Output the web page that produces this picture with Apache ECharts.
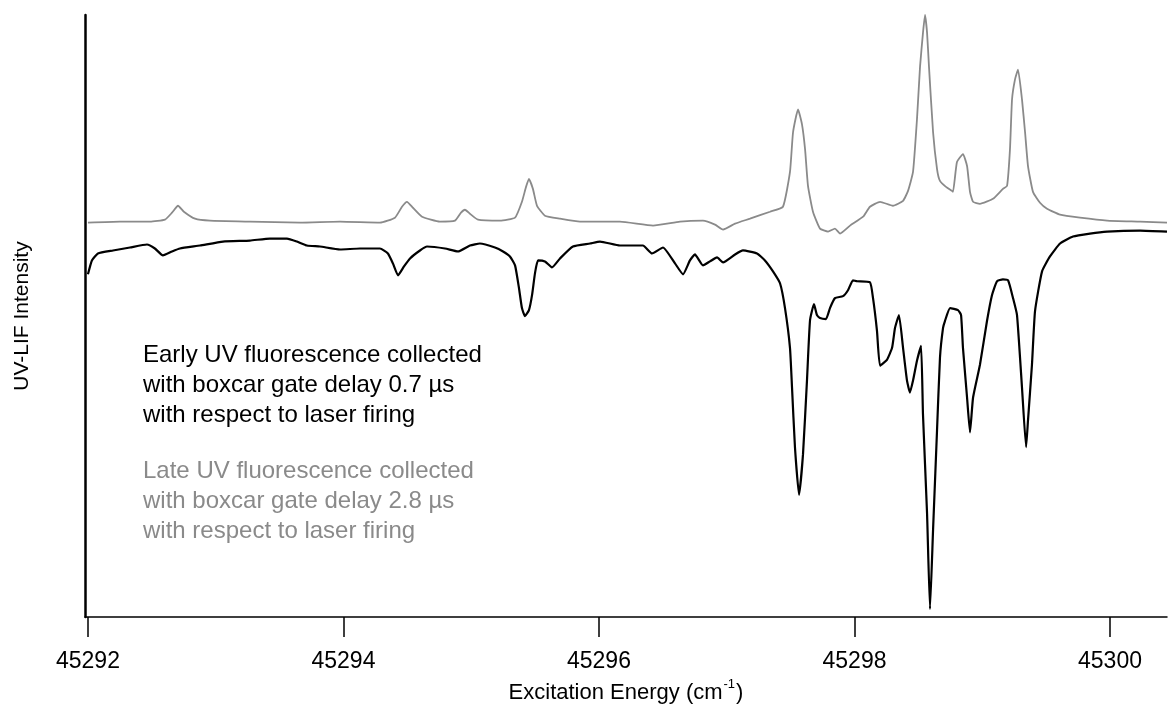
<!DOCTYPE html>
<html>
<head>
<meta charset="utf-8">
<script src="https://cdn.jsdelivr.net/npm/echarts@6/dist/echarts.min.js"></script>
<style>
html,body{margin:0;padding:0;background:#fff;}
#chart{width:1168px;height:709px;}
</style>
</head>
<body>
<div id="chart"></div>
<script>
// Excitation energy (cm^-1) and relative UV-LIF intensity (arbitrary units)
const lateX = [45292.000,45292.250,45292.485,45292.603,45292.658,45292.705,45292.751,45292.838,45292.955,45293.268,45293.660,45293.973,45294.286,45294.403,45294.458,45294.497,45294.544,45294.615,45294.755,45294.873,45294.920,45294.951,45294.990,45295.053,45295.225,45295.343,45295.397,45295.429,45295.452,45295.483,45295.515,45295.577,45295.695,45295.851,45296.164,45296.423,45296.634,45296.814,45296.908,45296.971,45297.065,45297.182,45297.339,45297.440,45297.495,45297.519,45297.558,45297.589,45297.613,45297.636,45297.675,45297.730,45297.793,45297.847,45297.887,45297.965,45298.067,45298.121,45298.200,45298.301,45298.380,45298.419,45298.458,45298.489,45298.513,45298.536,45298.552,45298.568,45298.583,45298.615,45298.646,45298.669,45298.716,45298.763,45298.771,45298.802,45298.849,45298.881,45298.904,45298.928,45298.982,45299.084,45299.162,45299.194,45299.217,45299.233,45299.256,45299.280,45299.311,45299.335,45299.358,45299.397,45299.452,45299.507,45299.609,45299.765,45299.977,45300.235,45300.446];
const lateY = [397,398,398,400,407,414,408,401,399,398,397,398,397,402,413,418,412,403,398,399,407,410,406,400,399,402,418,433,441,431,414,404,401,398,398,394,398,399,395,390,396,401,408,413,448,488,511,496,471,434,408,391,388,391,386,394,403,413,418,414,419,429,448,501,554,588,606,588,554,488,451,439,433,429,428,458,466,454,428,418,416,421,431,434,471,521,541,551,521,488,454,428,417,411,405,402,399,398,397];

const earlyX = [45292.000,45292.031,45292.078,45292.196,45292.329,45292.462,45292.524,45292.587,45292.658,45292.720,45292.877,45293.057,45293.268,45293.425,45293.558,45293.636,45293.714,45293.816,45293.973,45294.129,45294.286,45294.348,45294.387,45294.427,45294.474,45294.521,45294.599,45294.654,45294.795,45294.896,45294.990,45295.068,45295.186,45295.249,45295.303,45295.343,45295.374,45295.397,45295.421,45295.452,45295.476,45295.499,45295.523,45295.577,45295.632,45295.695,45295.796,45295.930,45296.008,45296.164,45296.344,45296.415,45296.501,45296.595,45296.658,45296.712,45296.751,45296.814,45296.869,45296.924,45296.971,45297.065,45297.127,45297.237,45297.299,45297.362,45297.417,45297.456,45297.495,45297.511,45297.534,45297.566,45297.597,45297.628,45297.652,45297.683,45297.706,45297.730,45297.777,45297.808,45297.847,45297.910,45297.949,45297.988,45298.020,45298.121,45298.145,45298.176,45298.200,45298.254,45298.294,45298.317,45298.348,45298.380,45298.411,45298.434,45298.458,45298.489,45298.521,45298.536,45298.568,45298.591,45298.615,45298.646,45298.669,45298.693,45298.708,45298.748,45298.810,45298.834,45298.849,45298.881,45298.904,45298.928,45298.982,45299.037,45299.076,45299.115,45299.162,45299.202,45299.241,45299.272,45299.311,45299.343,45299.358,45299.389,45299.413,45299.468,45299.530,45299.609,45299.710,45299.843,45299.977,45300.235,45300.446];
const earlyY = [345,359,366,369,372,375,371,364,368,371,374,378,379,381,381,378,374,373,370,371,371,366,356,344,353,361,369,373,371,368,374,376,372,368,363,354,331,311,303,309,324,346,359,358,352,361,373,376,378,374,374,366,372,356,345,359,365,354,358,362,357,365,369,366,359,348,336,311,271,231,171,123,164,238,299,315,304,301,300,311,321,323,329,339,338,337,321,288,253,259,271,291,304,271,238,226,238,258,273,204,104,8,88,188,261,291,298,311,309,304,271,221,186,221,254,298,324,338,340,339,321,304,231,171,198,254,308,348,363,376,383,386,388,389,388];

const xTicks = [45292,45294,45296,45298,45300];
const xRange = [45291.977, 45300.446];
const yRange = [0, 606];

const earlyText = ['Early UV fluorescence collected','with boxcar gate delay 0.7 \u00b5s','with respect to laser firing'];
const lateText = ['Late UV fluorescence collected','with boxcar gate delay 2.8 \u00b5s','with respect to laser firing'];

const zip = (xs, ys) => xs.map((x, i) => [x, ys[i]]);
const FONT = '"Liberation Sans", Arial, Helvetica, sans-serif';

const chart = echarts.init(document.getElementById('chart'), null, {renderer: 'canvas'});

const graphics = [];
earlyText.forEach((t, i) => graphics.push({
  type: 'text', left: 143, top: 343 + i * 30,
  style: {text: t, fill: '#000', font: '24px ' + FONT}
}));
lateText.forEach((t, i) => graphics.push({
  type: 'text', left: 143, top: 459 + i * 30,
  style: {text: t, fill: '#8a8a8a', font: '24px ' + FONT}
}));

chart.setOption({
  animation: false,
  backgroundColor: '#fff',
  grid: {left: 85, right: 1, top: 15, bottom: 88, containLabel: false},
  xAxis: {
    type: 'value', min: xRange[0], max: xRange[1],
    name: '{a|Excitation Energy (cm}{s|-1}{a|)}',
    nameLocation: 'middle', nameGap: 57,
    nameTextStyle: {
      rich: {
        a: {fontSize: 22, fontFamily: FONT, color: '#000', verticalAlign: 'bottom', lineHeight: 26},
        s: {fontSize: 13, fontFamily: FONT, color: '#000', verticalAlign: 'top', lineHeight: 26, padding: [0, 1, 12, 1]}
      }
    },
    axisLine: {show: true, onZero: false, lineStyle: {color: '#000', width: 1.5}},
    axisTick: {show: true, customValues: xTicks, length: 20, inside: false, lineStyle: {color: '#000', width: 1.5}},
    axisLabel: {customValues: xTicks, margin: 33, fontSize: 23, fontFamily: FONT, color: '#000', formatter: v => String(v)},
    splitLine: {show: false}
  },
  yAxis: {
    type: 'value', min: yRange[0], max: yRange[1],
    name: 'UV-LIF Intensity', nameLocation: 'middle', nameGap: 52, nameRotate: 90,
    nameTextStyle: {fontSize: 21, fontFamily: FONT, color: '#000'},
    axisLine: {show: true, onZero: false, lineStyle: {color: '#000', width: 2.5}},
    axisTick: {show: false},
    axisLabel: {show: false},
    splitLine: {show: false}
  },
  series: [
    {
      name: 'Late', type: 'line', data: zip(lateX, lateY), showSymbol: false, smooth: 0.15,
      clip: false, lineStyle: {color: '#8a8a8a', width: 1.8}
    },
    {
      name: 'Early', type: 'line', data: zip(earlyX, earlyY), showSymbol: false, smooth: 0.15,
      clip: false, lineStyle: {color: '#000', width: 2.2}
    }
  ],
  graphic: graphics
});
</script>
</body>
</html>
